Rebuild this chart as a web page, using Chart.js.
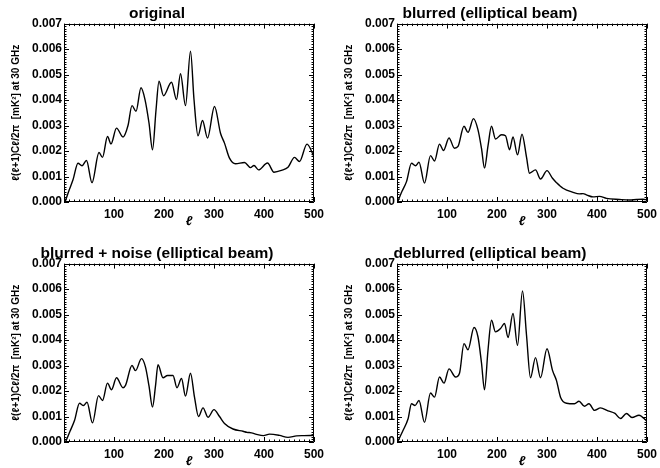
<!DOCTYPE html>
<html>
<head>
<meta charset="utf-8">
<script src="https://cdn.jsdelivr.net/npm/chart.js@4.4.1/dist/chart.umd.min.js"></script>
<style>
  html, body { margin: 0; padding: 0; background: #fff; }
  #wrap { position: relative; width: 660px; height: 468px; overflow: hidden; }
  .panel { position: absolute; width: 330px; height: 234px; }
</style>
</head>
<body>
<div id="wrap">
  <div class="panel" style="left:0;top:0"><canvas id="cOrig" width="330" height="234"></canvas></div>
  <div class="panel" style="left:333px;top:0"><canvas id="cBlur" width="330" height="234"></canvas></div>
  <div class="panel" style="left:0;top:240px"><canvas id="cNoise" width="330" height="234"></canvas></div>
  <div class="panel" style="left:333px;top:240px"><canvas id="cDeblur" width="330" height="234"></canvas></div>
</div>
<script>
// ---------------------------
// Data
// ---------------------------
const ellOrig = [2, 10, 18, 28, 36, 45, 56, 70, 77, 87, 94, 105, 118, 128, 136, 144, 154, 162, 170, 177,
  184, 190, 199, 215, 225, 233, 243, 253, 260, 268, 277, 287, 301, 313, 321, 331, 343, 361, 373, 380,
  389, 407, 420, 435, 448, 461, 471, 486, 500];
const clOrig = [0, 0.00045, 0.00087, 0.00152, 0.00142, 0.00163, 0.00076, 0.00194, 0.00175, 0.00257,
  0.00228, 0.0029, 0.00255, 0.003, 0.00378, 0.00356, 0.00448, 0.00402, 0.0031, 0.00205,
  0.0036, 0.00474, 0.00417, 0.0047, 0.00402, 0.00503, 0.00378, 0.00592, 0.00402, 0.0026,
  0.0032, 0.00251, 0.00375, 0.0027, 0.00231, 0.00172, 0.0015, 0.00155, 0.00135, 0.00143,
  0.00126, 0.00153, 0.00117, 0.00124, 0.00136, 0.00175, 0.00159, 0.00227, 0.00178];

const ellBlur = [1, 10, 19, 29, 37, 44, 55, 67, 75, 85, 93, 104, 115, 122, 134, 142, 153, 162, 169, 175,
  182, 189, 197, 209, 217, 225, 232, 241, 250, 259, 265, 277, 287, 300, 311, 319, 332, 352, 365, 372,
  380, 392, 405, 419, 445, 465, 479, 492, 500];
const clBlur = [0, 0.00042, 0.0008, 0.00152, 0.00142, 0.00156, 0.00074, 0.00182, 0.00161, 0.00227,
  0.00202, 0.00251, 0.00211, 0.00218, 0.00297, 0.00273, 0.00327, 0.00283, 0.0021, 0.00133,
  0.0022, 0.00297, 0.00247, 0.00264, 0.0026, 0.00205, 0.00255, 0.00185, 0.00266, 0.00176,
  0.00113, 0.00126, 0.0009, 0.00123, 0.00093, 0.00076, 0.00054, 0.00038, 0.00032, 0.00033,
  0.00027, 0.0002, 0.00022, 0.00014, 0.0001, 0.00008, 0.0001, 0.00011, 0.00008];

const ellNoise = [3, 12, 21, 31, 39, 46, 57, 69, 77, 87, 95, 105, 118, 123, 136, 143, 155, 163, 170, 177,
  183, 188, 198, 207, 218, 226, 235, 243, 253, 261, 269, 278, 288, 300, 311, 321, 338, 358, 366, 375,
  385, 399, 411, 431, 448, 465, 480, 500];
const clNoise = [0, 0.00042, 0.00084, 0.00152, 0.00143, 0.00156, 0.00075, 0.00182, 0.00163, 0.00231,
  0.00205, 0.00252, 0.00213, 0.00222, 0.003, 0.0028, 0.00327, 0.00294, 0.0022, 0.00137,
  0.0022, 0.00303, 0.00252, 0.00261, 0.00261, 0.00213, 0.00249, 0.0018, 0.0027, 0.00176,
  0.001, 0.00134, 0.00097, 0.00127, 0.001, 0.00073, 0.00051, 0.00042, 0.00038, 0.00036,
  0.0003, 0.00025, 0.00031, 0.00026, 0.00018, 0.00024, 0.00025, 0.00026];

const ellDeblur = [1, 12, 22, 29, 36, 44, 55, 67, 75, 85, 94, 104, 117, 125, 134, 142, 154, 162, 169, 175,
  182, 189, 197, 207, 215, 222, 232, 241, 251, 259, 267, 277, 287, 300, 311, 319, 327, 339, 355, 364,
  375, 384, 395, 407, 422, 436, 447, 459, 470, 484, 500];
const clDeblur = [0, 0.00045, 0.0009, 0.0015, 0.00143, 0.00163, 0.00077, 0.00192, 0.00176, 0.00255,
  0.00231, 0.00287, 0.00255, 0.0027, 0.00386, 0.00362, 0.00449, 0.00412, 0.0031, 0.00205,
  0.0036, 0.00478, 0.00432, 0.00445, 0.00465, 0.0041, 0.00504, 0.00379, 0.00593, 0.0042,
  0.00252, 0.00331, 0.00252, 0.00366, 0.00281, 0.00241, 0.00176, 0.00152, 0.0015, 0.0016,
  0.0014, 0.0015, 0.00124, 0.00134, 0.00122, 0.00112, 0.00092, 0.00112, 0.00096, 0.00105, 0.00081];

const panelTitles = ['original', 'blurred (elliptical beam)', 'blurred + noise (elliptical beam)', 'deblurred (elliptical beam)'];
const xTickLabels = [100, 200, 300, 400, 500];
const yTickLabels = ['0.000', '0.001', '0.002', '0.003', '0.004', '0.005', '0.006', '0.007'];
const yTitle = 'ℓ(ℓ+1)Cℓ/2π  [mK²] at 30 GHz';
const xTitle = 'ℓ';

const X_MIN = 0, X_MAX = 500, X_MAJOR = 100, X_MINOR = 10;
const Y_MIN = 0, Y_MAX = 0.007, Y_MAJOR = 0.001;

Chart.defaults.font.family = "'Liberation Sans', Arial, Helvetica, sans-serif";
Chart.defaults.color = '#000';

// ---------------------------
// IDL-style box with inward ticks (major + minor)
// ---------------------------
const frameTicks = {
  id: 'frameTicks',
  afterDraw(chart) {
    const ctx = chart.ctx;
    const a = chart.chartArea;
    const x = chart.scales.x;
    const y = chart.scales.y;
    ctx.save();
    ctx.strokeStyle = '#000';
    ctx.lineWidth = 1;
    ctx.beginPath();
    ctx.rect(Math.round(a.left) + 0.5, Math.round(a.top) + 0.5,
      Math.round(a.right - a.left) - 1, Math.round(a.bottom - a.top) - 1);
    const nx = Math.round((X_MAX - X_MIN) / X_MINOR);
    for (let i = 0; i <= nx; i++) {
      const px = Math.round(x.getPixelForValue(X_MIN + i * X_MINOR)) + 0.5;
      const len = (i % 10 === 0) ? 5 : 2.5;
      ctx.moveTo(px, a.bottom); ctx.lineTo(px, a.bottom - len);
      ctx.moveTo(px, a.top); ctx.lineTo(px, a.top + len);
    }
    const ny = 70;
    for (let i = 0; i <= ny; i++) {
      const py = Math.round(y.getPixelForValue(Y_MIN + i * (Y_MAX - Y_MIN) / ny)) + 0.5;
      const len = (i % 10 === 0) ? 5 : 2.5;
      ctx.moveTo(a.left, py); ctx.lineTo(a.left + len, py);
      ctx.moveTo(a.right, py); ctx.lineTo(a.right - len, py);
    }
    ctx.stroke();
    ctx.restore();
  }
};

function makePanel(id, title, ell, cl) {
  const canvas = document.getElementById(id);
  if (!canvas) return;
  const points = ell.map((l, i) => ({ x: l, y: cl[i] }));

  new Chart(canvas.getContext('2d'), {
    type: 'line',
    data: {
      datasets: [{
        data: points,
        borderColor: '#000',
        borderWidth: 1.4,
        pointRadius: 0,
        fill: false,
        cubicInterpolationMode: 'monotone'
      }]
    },
    plugins: [frameTicks],
    options: {
      responsive: false,
      animation: false,
      layout: { padding: { left: 0, right: 16, top: 0, bottom: 0 } },
      plugins: {
        legend: { display: false },
        tooltip: { enabled: false },
        title: {
          display: true,
          text: title,
          color: '#000',
          font: { size: 15.5, weight: 'bold' },
          padding: { top: 4, bottom: 1 }
        }
      },
      scales: {
        x: {
          type: 'linear',
          min: X_MIN,
          max: X_MAX,
          grid: { display: false, drawTicks: false },
          border: { display: false },
          ticks: {
            stepSize: X_MAJOR,
            autoSkip: false,
            maxRotation: 0,
            padding: 5,
            font: { size: 12, weight: 'bold' },
            callback: (v) => xTickLabels.includes(v) ? String(v) : ''
          },
          title: {
            display: true,
            text: xTitle,
            font: { size: 13, style: 'italic', weight: 'bold' },
            padding: { top: 0, bottom: 5 }
          },
          afterFit: (s) => { s.height = 32; }
        },
        y: {
          min: Y_MIN,
          max: Y_MAX,
          grid: { display: false, drawTicks: false },
          border: { display: false },
          ticks: {
            stepSize: Y_MAJOR,
            padding: 2,
            font: { size: 12, weight: 'bold' },
            callback: (v) => yTickLabels[Math.round(v / Y_MAJOR)]
          },
          title: {
            display: true,
            text: yTitle,
            font: { size: 10, weight: 'bold' },
            padding: { top: 10, bottom: 0 }
          },
          afterFit: (s) => { s.width = 64; }
        }
      }
    }
  });
}

makePanel('cOrig', panelTitles[0], ellOrig, clOrig);
makePanel('cBlur', panelTitles[1], ellBlur, clBlur);
makePanel('cNoise', panelTitles[2], ellNoise, clNoise);
makePanel('cDeblur', panelTitles[3], ellDeblur, clDeblur);
</script>
</body>
</html>
